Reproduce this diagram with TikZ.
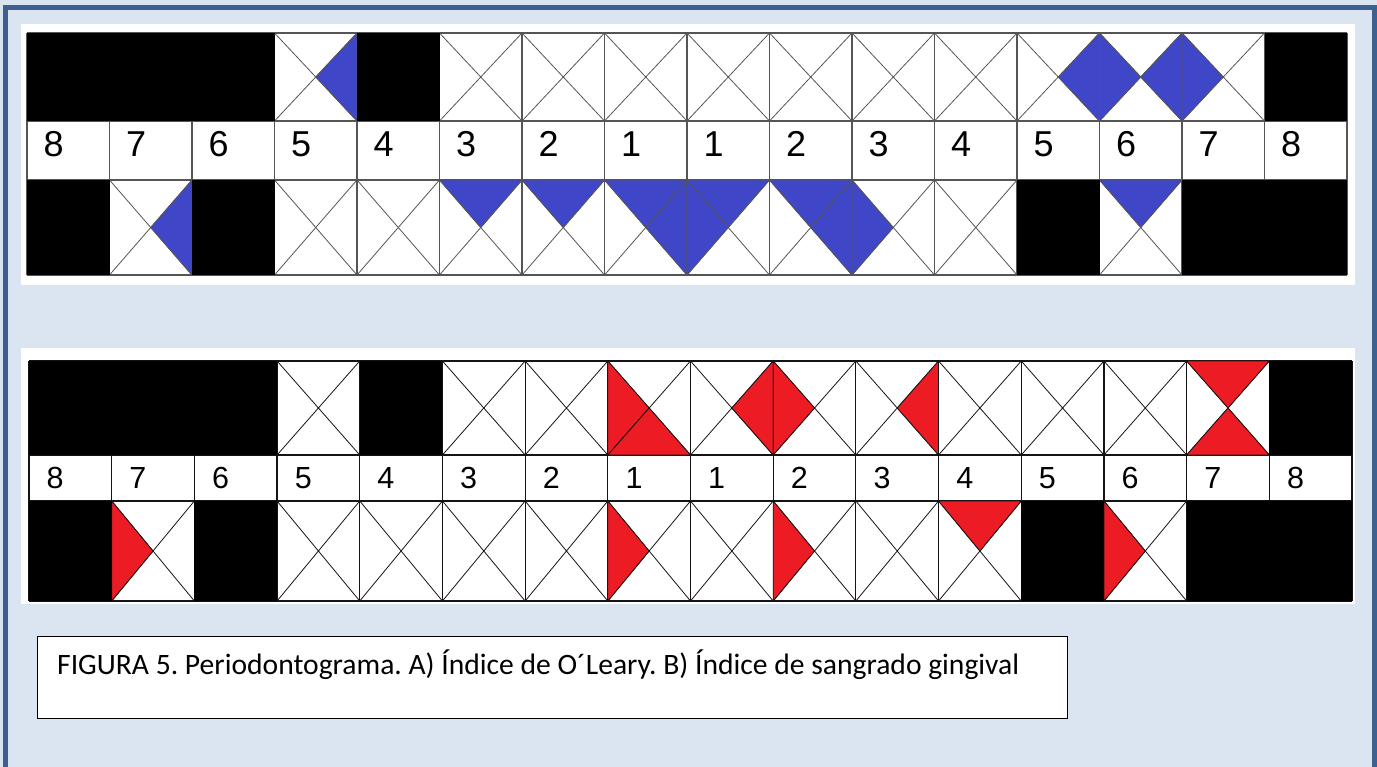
\documentclass[tikz,border=0pt]{standalone}
\usepackage{fontspec}
\setmainfont{Liberation Sans}
\newfontfamily\capfont{Carlito}
\frenchspacing
\definecolor{framefill}{RGB}{219,229,241}
\definecolor{frameline}{RGB}{62,96,142}
\definecolor{plaque}{RGB}{64,70,200}
\definecolor{bleed}{RGB}{237,28,36}
\definecolor{gridA}{RGB}{85,85,85}
\definecolor{gridB}{RGB}{20,20,20}

\newcommand\setpanel[6]{\def\PX{#1}\def\PW{#2}\def\PYa{#3}\def\PYb{#4}\def\PYc{#5}\def\PYd{#6}}
\newcommand\rowy[1]{\ifnum#1=1 \let\ya\PYa\let\yb\PYb\else\let\ya\PYc\let\yb\PYd\fi}
\newcommand\tri[5]{% col, row, side, fill, line
  \rowy{#2}%
  \pgfmathsetmacro\xl{\PX+#1*\PW}%
  \pgfmathsetmacro\xr{\PX+(#1+1)*\PW}%
  \pgfmathsetmacro\xm{(\xl+\xr)/2}%
  \pgfmathsetmacro\ym{(\ya+\yb)/2}%
  \if t#3 \path[fill=#4,draw=#5,line width=0.8pt,line join=round] (\xl,\ya)--(\xr,\ya)--(\xm,\ym)--cycle;\fi
  \if r#3 \path[fill=#4,draw=#5,line width=0.8pt,line join=round] (\xr,\ya)--(\xr,\yb)--(\xm,\ym)--cycle;\fi
  \if b#3 \path[fill=#4,draw=#5,line width=0.8pt,line join=round] (\xl,\yb)--(\xr,\yb)--(\xm,\ym)--cycle;\fi
  \if l#3 \path[fill=#4,draw=#5,line width=0.8pt,line join=round] (\xl,\ya)--(\xl,\yb)--(\xm,\ym)--cycle;\fi
}
\newcommand\drawpanel[8]{% #1 prefix, #2 line colour, #3 fill colour, #4 black cells, #5 triangles, #6 font size, #7 baseline, #8 text offset
  \foreach \c in {0,...,15}{
    \pgfmathsetmacro\xl{\PX+\c*\PW}
    \pgfmathsetmacro\xr{\PX+(\c+1)*\PW}
    \draw[draw=#2, line width=0.8pt] (\xl,\PYa)--(\xr,\PYb) (\xr,\PYa)--(\xl,\PYb)
                                     (\xl,\PYc)--(\xr,\PYd) (\xr,\PYc)--(\xl,\PYd);
    \draw[draw=#2, line width=1.2pt] (\xl,\PYa)--(\xl,\PYd);
  }
  \draw[draw=#2, line width=1.2pt] ({\PX+16*\PW},\PYa)--({\PX+16*\PW},\PYd);
  \foreach \yy in {\PYa,\PYb,\PYc,\PYd}{
    \draw[draw=#2, line width=1.2pt] (\PX,\yy)--({\PX+16*\PW},\yy);
  }
  \foreach \c/\r/\s in {#5}{\tri{\c}{\r}{\s}{#3}{#2}}
  \foreach \c/\r in {#4}{
    \rowy{\r}
    \pgfmathsetmacro\xl{\PX+\c*\PW}
    \pgfmathsetmacro\xr{\PX+(\c+1)*\PW}
    \fill[black] (\xl,\ya) rectangle (\xr,\yb);
  }
  \foreach \t [count=\i from 0] in {8,7,6,5,4,3,2,1,1,2,3,4,5,6,7,8}{
    \pgfmathsetmacro\xl{\PX+\i*\PW+#8}
    \node[anchor=base west, inner sep=0pt, font=\fontsize{#6}{#6}\selectfont] (#1\i) at (\xl,#7) {\t};
  }
}

\begin{document}
\begin{tikzpicture}[x=1pt,y=-1pt]
  \useasboundingbox (0,0) rectangle (1377,767);
  \clip (0,0) rectangle (1377,767);
  % outer frame
  \fill[framefill] (0,0) rectangle (1377,767);
  \draw[frameline, line width=5pt] (5.5,7.5) rectangle (1374.5,820);
  % panel backgrounds
  \fill[white] (21,24) rectangle (1355,285);
  \fill[white] (21,348) rectangle (1355,604);

  % panel A: O'Leary index
  \setpanel{27}{82.5}{33}{121}{180}{275}
  \drawpanel{la}{gridA}{plaque}
    {0/1,1/1,2/1,4/1,15/1,0/3,2/3,12/3,14/3,15/3}
    {3/1/r,12/1/r,13/1/l,13/1/r,14/1/l,
     1/3/r,5/3/t,6/3/t,7/3/t,7/3/r,8/3/t,8/3/l,9/3/t,9/3/r,10/3/l,13/3/t}
    {36}{157}{16.5}

  % panel B: gingival bleeding index
  \setpanel{29}{82.6875}{361}{455}{501}{601}
  \drawpanel{lb}{gridB}{bleed}
    {0/1,1/1,2/1,4/1,15/1,0/3,2/3,12/3,14/3,15/3}
    {7/1/l,7/1/b,8/1/r,9/1/l,10/1/r,14/1/t,14/1/b,
     1/3/l,7/3/l,9/3/l,11/3/t,13/3/l}
    {30.5}{488}{17.5}

  % caption
  \node[draw=black, fill=white, line width=1pt, minimum width=1030pt, minimum height=82pt,
        anchor=north west, inner sep=0pt] (capbox) at (37,636) {};
  \node[anchor=base west, inner sep=0pt, font=\capfont\fontsize{29.6}{30}\selectfont] (cap) at (57,674)
    {FIGURA 5. Periodontograma. A) Índice de O´Leary. B) Índice de sangrado gingival};
\end{tikzpicture}
\end{document}
